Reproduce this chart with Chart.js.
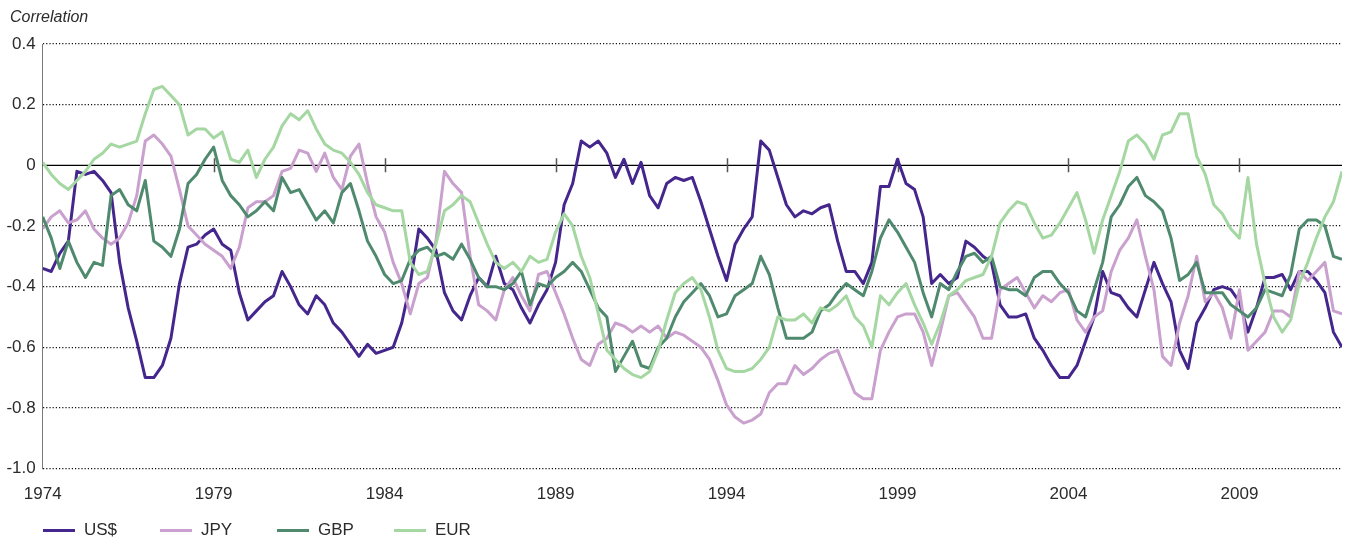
<!DOCTYPE html>
<html>
<head>
<meta charset="utf-8">
<script src="https://cdn.jsdelivr.net/npm/chart.js@4.4.1/dist/chart.umd.min.js"></script>
<style>
  body { margin: 0; background: #fff; }
  #wrap { position: relative; width: 1357px; height: 540px; }
  #legend {
    position: absolute; left: 43px; top: 520px; display: flex;
    font: 17px "Liberation Sans", Arial, sans-serif; color: #2b2b2b;
  }
  .item { width: 117px; display: flex; align-items: center; height: 20px; }
  .swatch { width: 32px; height: 3px; margin-right: 9px; }
</style>
</head>
<body>
<div id="wrap">
  <canvas id="chart" width="1357" height="540"></canvas>
  <div id="legend"></div>
</div>
<script>
const startYear = 1974;
const axisCaption = "Correlation";
const yearTicks = [1974, 1979, 1984, 1989, 1994, 1999, 2004, 2009];
const valueTicks = [0.4, 0.2, 0, -0.2, -0.4, -0.6, -0.8, -1.0];
const seriesNames = ["US$", "JPY", "GBP", "EUR"];
const seriesColors = ["#44268c", "#c9a0ce", "#4f8a6f", "#a5d7a2"];

// quarterly readings, 1974 Q1 .. 2012 Q1
const usd = [
  -0.34, -0.35, -0.29, -0.25,
  -0.02, -0.03, -0.02, -0.05,
  -0.09, -0.32, -0.47, -0.58,
  -0.70, -0.70, -0.66, -0.57,
  -0.39, -0.27, -0.26, -0.23,
  -0.21, -0.26, -0.28, -0.42,
  -0.51, -0.48, -0.45, -0.43,
  -0.35, -0.40, -0.46, -0.49,
  -0.43, -0.46, -0.52, -0.55,
  -0.59, -0.63, -0.59, -0.62,
  -0.61, -0.60, -0.52, -0.39,
  -0.21, -0.24, -0.28, -0.42,
  -0.48, -0.51, -0.43, -0.37,
  -0.40, -0.30, -0.39, -0.41,
  -0.47, -0.52, -0.46, -0.41,
  -0.32, -0.13, -0.06, 0.08,
  0.06, 0.08, 0.04, -0.04,
  0.02, -0.06, 0.01, -0.10,
  -0.14, -0.06, -0.04, -0.05,
  -0.04, -0.12, -0.21, -0.30,
  -0.38, -0.26, -0.21, -0.17,
  0.08, 0.05, -0.04, -0.13,
  -0.17, -0.15, -0.16, -0.14,
  -0.13, -0.25, -0.35, -0.35,
  -0.39, -0.32, -0.07, -0.07,
  0.02, -0.06, -0.08, -0.17,
  -0.39, -0.36, -0.39, -0.37,
  -0.25, -0.27, -0.30, -0.32,
  -0.46, -0.50, -0.50, -0.49,
  -0.57, -0.61, -0.66, -0.70,
  -0.70, -0.66, -0.58, -0.50,
  -0.35, -0.42, -0.43, -0.47,
  -0.50, -0.41, -0.32, -0.39,
  -0.45, -0.61, -0.67, -0.52,
  -0.47, -0.41, -0.40, -0.41,
  -0.45, -0.55, -0.47, -0.37,
  -0.37, -0.36, -0.41, -0.35,
  -0.35, -0.38, -0.42, -0.55,
  -0.60
];
const jpy = [
  -0.21, -0.17, -0.15, -0.19,
  -0.18, -0.15, -0.21, -0.24,
  -0.26, -0.24, -0.19, -0.10,
  0.08, 0.10, 0.07, 0.03,
  -0.08, -0.20, -0.23, -0.26,
  -0.28, -0.30, -0.34, -0.27,
  -0.14, -0.12, -0.12, -0.10,
  -0.02, -0.01, 0.05, 0.04,
  -0.02, 0.04, -0.04, -0.08,
  0.03, 0.07, -0.06, -0.17,
  -0.22, -0.32, -0.39, -0.49,
  -0.39, -0.37, -0.25, -0.02,
  -0.06, -0.09, -0.30, -0.46,
  -0.48, -0.51, -0.41, -0.37,
  -0.43, -0.48, -0.36, -0.35,
  -0.42, -0.49, -0.57, -0.64,
  -0.66, -0.59, -0.57, -0.52,
  -0.53, -0.55, -0.53, -0.55,
  -0.53, -0.57, -0.55, -0.56,
  -0.58, -0.60, -0.64, -0.71,
  -0.79, -0.83, -0.85, -0.84,
  -0.82, -0.75, -0.72, -0.72,
  -0.66, -0.69, -0.67, -0.64,
  -0.62, -0.61, -0.68, -0.75,
  -0.77, -0.77, -0.61, -0.55,
  -0.50, -0.49, -0.49, -0.55,
  -0.66, -0.55, -0.43, -0.42,
  -0.46, -0.50, -0.57, -0.57,
  -0.41, -0.39, -0.37, -0.42,
  -0.47, -0.43, -0.45, -0.42,
  -0.41, -0.51, -0.55, -0.50,
  -0.48, -0.35, -0.28, -0.24,
  -0.18, -0.30, -0.41, -0.63,
  -0.66, -0.52, -0.43, -0.30,
  -0.45, -0.42, -0.47, -0.57,
  -0.41, -0.61, -0.58, -0.55,
  -0.48, -0.48, -0.50, -0.35,
  -0.38, -0.35, -0.32, -0.48,
  -0.49
];
const gbp = [
  -0.17, -0.24, -0.34, -0.25,
  -0.32, -0.37, -0.32, -0.33,
  -0.10, -0.08, -0.13, -0.15,
  -0.05, -0.25, -0.27, -0.30,
  -0.21, -0.06, -0.03, 0.02,
  0.06, -0.05, -0.10, -0.13,
  -0.17, -0.15, -0.12, -0.15,
  -0.04, -0.09, -0.08, -0.13,
  -0.18, -0.15, -0.19, -0.09,
  -0.06, -0.15, -0.25, -0.30,
  -0.36, -0.39, -0.38, -0.31,
  -0.28, -0.27, -0.30, -0.29,
  -0.31, -0.26, -0.31, -0.37,
  -0.40, -0.40, -0.41, -0.39,
  -0.35, -0.46, -0.39, -0.40,
  -0.37, -0.35, -0.32, -0.35,
  -0.41, -0.47, -0.50, -0.68,
  -0.63, -0.58, -0.66, -0.67,
  -0.60, -0.57, -0.50, -0.45,
  -0.42, -0.39, -0.43, -0.50,
  -0.49, -0.43, -0.41, -0.39,
  -0.30, -0.36, -0.47, -0.57,
  -0.57, -0.57, -0.55, -0.48,
  -0.46, -0.42, -0.39, -0.41,
  -0.43, -0.35, -0.24, -0.18,
  -0.22, -0.27, -0.32, -0.42,
  -0.50, -0.39, -0.41, -0.35,
  -0.30, -0.29, -0.32, -0.30,
  -0.40, -0.41, -0.41, -0.43,
  -0.37, -0.35, -0.35, -0.39,
  -0.42, -0.48, -0.50, -0.41,
  -0.32, -0.17, -0.13, -0.07,
  -0.04, -0.10, -0.12, -0.15,
  -0.24, -0.38, -0.36, -0.32,
  -0.42, -0.42, -0.42, -0.46,
  -0.48, -0.50, -0.47, -0.41,
  -0.42, -0.43, -0.36, -0.21,
  -0.18, -0.18, -0.20, -0.30,
  -0.31
];
const eur = [
  0.01, -0.03, -0.06, -0.08,
  -0.05, -0.02, 0.02, 0.04,
  0.07, 0.06, 0.07, 0.08,
  0.17, 0.25, 0.26, 0.23,
  0.20, 0.10, 0.12, 0.12,
  0.09, 0.11, 0.02, 0.01,
  0.05, -0.04, 0.02, 0.06,
  0.13, 0.17, 0.15, 0.18,
  0.12, 0.07, 0.05, 0.04,
  0.01, -0.03, -0.09, -0.13,
  -0.14, -0.15, -0.15, -0.32,
  -0.36, -0.35, -0.26, -0.15,
  -0.13, -0.10, -0.12, -0.19,
  -0.26, -0.32, -0.34, -0.32,
  -0.35, -0.30, -0.32, -0.31,
  -0.22, -0.16, -0.20, -0.30,
  -0.37, -0.49, -0.61, -0.64,
  -0.67, -0.69, -0.70, -0.68,
  -0.61, -0.51, -0.42, -0.39,
  -0.37, -0.41, -0.50, -0.61,
  -0.67, -0.68, -0.68, -0.67,
  -0.64, -0.60, -0.50, -0.51,
  -0.51, -0.49, -0.52, -0.47,
  -0.48, -0.46, -0.43, -0.50,
  -0.53, -0.60, -0.43, -0.46,
  -0.42, -0.39, -0.46, -0.52,
  -0.59, -0.52, -0.43, -0.41,
  -0.38, -0.37, -0.36, -0.30,
  -0.19, -0.15, -0.12, -0.13,
  -0.19, -0.24, -0.23, -0.19,
  -0.14, -0.09, -0.18, -0.29,
  -0.18, -0.10, -0.02, 0.08,
  0.10, 0.07, 0.02, 0.10,
  0.11, 0.17, 0.17, 0.03,
  -0.03, -0.13, -0.16, -0.21,
  -0.24, -0.04, -0.26, -0.39,
  -0.50, -0.55, -0.51, -0.39,
  -0.32, -0.24, -0.17, -0.12,
  -0.02
];

const seriesValues = [usd, jpy, gbp, eur];

function toPoints(values) {
  return values.map((v, i) => ({ x: startYear + i / 4, y: v }));
}

// solid zero line with small year ticks, under the series
const zeroLine = {
  id: "zeroLine",
  beforeDatasetsDraw(chart) {
    const { ctx, chartArea, scales } = chart;
    const y0 = scales.y.getPixelForValue(0);
    ctx.save();
    ctx.strokeStyle = "#000";
    ctx.lineWidth = 1.2;
    ctx.beginPath();
    ctx.moveTo(chartArea.left, y0);
    ctx.lineTo(chartArea.right, y0);
    ctx.stroke();
    ctx.strokeStyle = "#555";
    ctx.lineWidth = 1.5;
    ctx.beginPath();
    yearTicks.slice(1).forEach((yr) => {
      const px = Math.round(scales.x.getPixelForValue(yr)) + 0.5;
      ctx.moveTo(px, y0 - 7);
      ctx.lineTo(px, y0 + 7);
    });
    ctx.stroke();
    ctx.restore();
  },
};

// italic unit caption above the value axis
const caption = {
  id: "caption",
  afterDraw(chart) {
    const { ctx } = chart;
    ctx.save();
    ctx.font = 'italic 16px "Liberation Sans", Arial, sans-serif';
    ctx.fillStyle = "#2b2b2b";
    ctx.textBaseline = "middle";
    ctx.fillText(axisCaption, 10, 18);
    ctx.restore();
  },
};

Chart.defaults.font.family = '"Liberation Sans", Arial, sans-serif';
Chart.defaults.font.size = 17;
Chart.defaults.color = "#2b2b2b";

const chart = new Chart(document.getElementById("chart"), {
  type: "line",
  data: {
    datasets: seriesNames.map((name, i) => ({
      label: name,
      data: toPoints(seriesValues[i]),
      borderColor: seriesColors[i],
      backgroundColor: seriesColors[i],
      borderWidth: 3,
      pointRadius: 0,
      tension: 0,
      borderJoinStyle: "round",
      order: seriesNames.length - i,
    })),
  },
  options: {
    responsive: false,
    animation: false,
    layout: { padding: { left: 0, right: 15, top: 44, bottom: 19 } },
    plugins: {
      legend: { display: false },
      tooltip: { enabled: false },
      title: { display: false },
    },
    scales: {
      x: {
        type: "linear",
        min: 1974,
        max: 2012,
        afterBuildTicks: (scale) => {
          scale.ticks = yearTicks.map((v) => ({ value: v }));
        },
        ticks: {
          padding: 16,
          maxRotation: 0,
          autoSkip: false,
          callback: (v) => String(v),
        },
        grid: { display: false, drawTicks: false },
        border: { display: false },
      },
      y: {
        min: -1,
        max: 0.4,
        afterBuildTicks: (scale) => {
          scale.ticks = valueTicks.map((v) => ({ value: v }));
        },
        afterFit: (scale) => {
          scale.width = 42.7;
        },
        ticks: {
          padding: 7,
          callback: (v) => (v === 0 ? "0" : v.toFixed(1)),
        },
        grid: {
          drawTicks: false,
          lineWidth: 1.2,
          color: (ctx) =>
            ctx.tick && ctx.tick.value === 0 ? "rgba(0,0,0,0)" : "#111",
        },
        border: { display: true, color: "#7a7a7a", width: 1, dash: [1.2, 2] },
      },
    },
  },
  plugins: [zeroLine, caption],
});

// legend laid out like the original: fixed columns under the plot
const legendBox = document.getElementById("legend");
chart.data.datasets.forEach((ds) => {
  const item = document.createElement("div");
  item.className = "item";
  const sw = document.createElement("span");
  sw.className = "swatch";
  sw.style.background = ds.borderColor;
  const txt = document.createElement("span");
  txt.textContent = ds.label;
  item.appendChild(sw);
  item.appendChild(txt);
  legendBox.appendChild(item);
});
</script>
</body>
</html>
